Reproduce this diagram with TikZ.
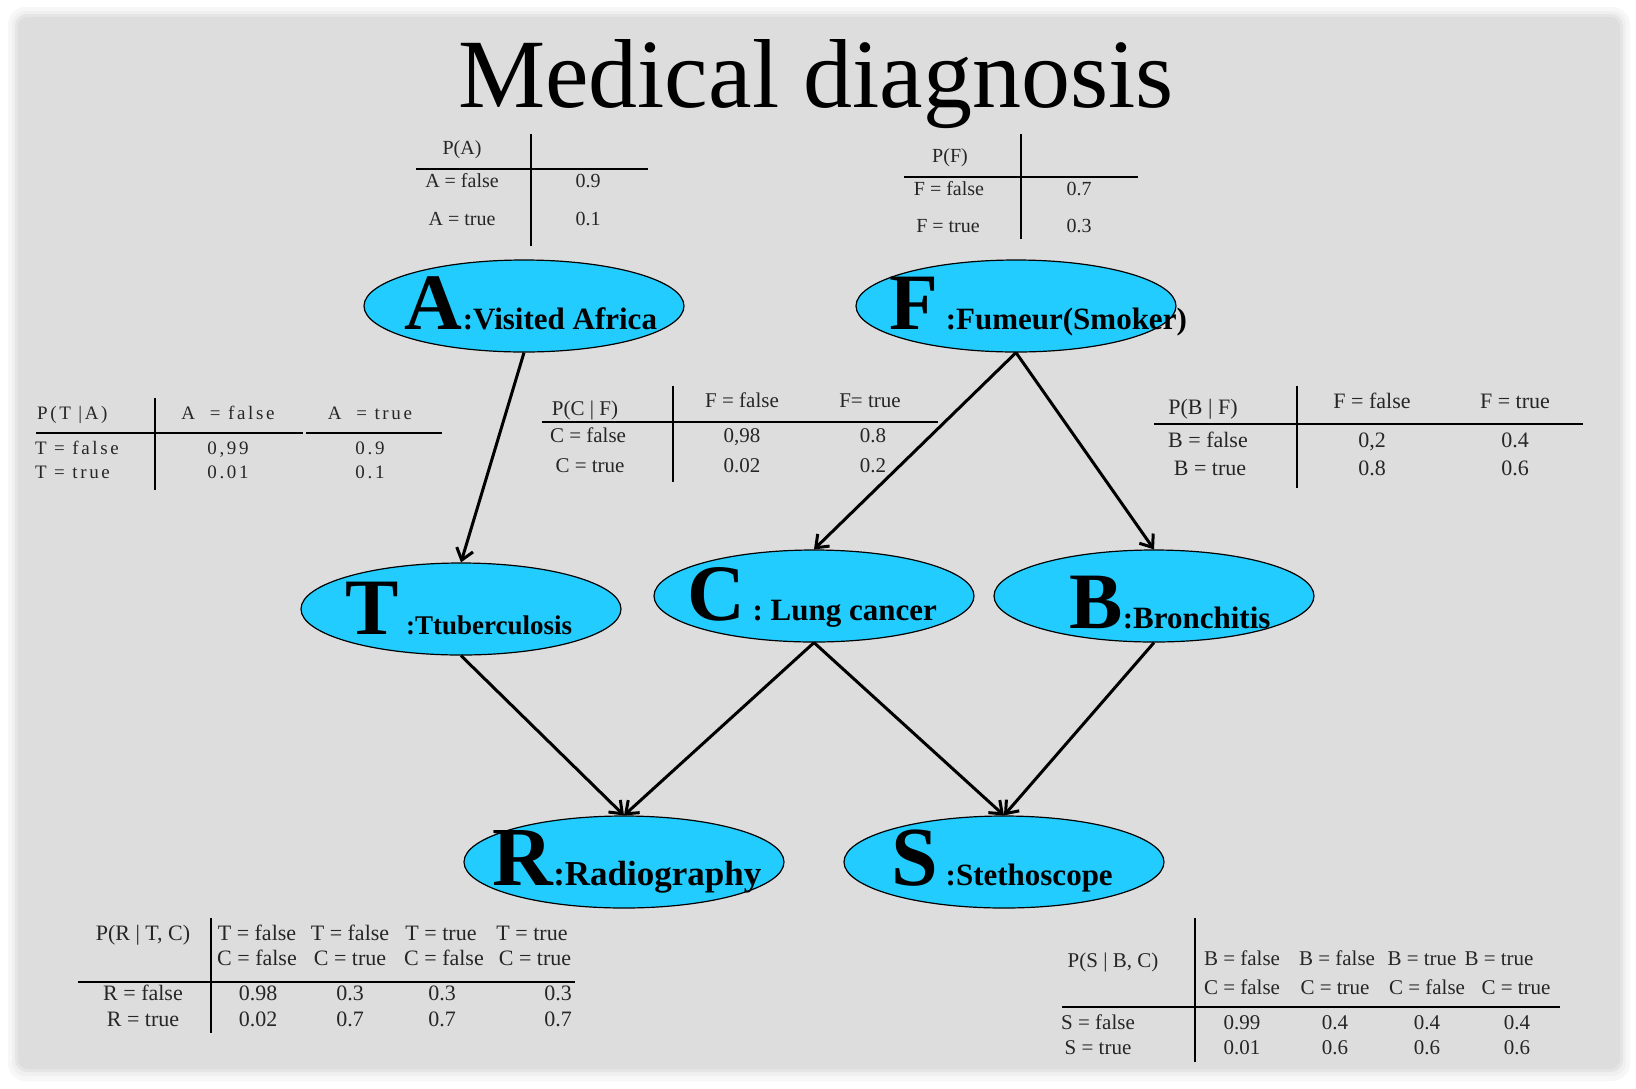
\documentclass[tikz,border=0pt]{standalone}
\usepackage{fontspec}
\setmainfont{Liberation Serif}
\newfontfamily\spaced[LetterSpace=14]{Liberation Serif}
\usetikzlibrary{shapes.geometric,arrows.meta}
\definecolor{slide}{RGB}{221,221,221}
\definecolor{nodecyan}{RGB}{34,204,255}
\tikzset{
  ell/.style={ellipse, draw=black, line width=1.2pt, fill=nodecyan, minimum width=320pt, minimum height=92pt, inner sep=0pt},
  arr/.style={line width=3pt, -{Straight Barb[length=11pt,width=17pt,line width=3pt]}},
  rule/.style={line width=2.8pt},
  cell/.style={anchor=base, inner sep=0pt, text=black!85},
  f20/.style={cell, font=\fontsize{20}{22}\selectfont},
  f21/.style={cell, font=\fontsize{21}{23}\selectfont},
  f22/.style={cell, font=\fontsize{22}{24}\selectfont},
  fsp/.style={cell, font=\spaced\fontsize{19}{21}\selectfont},
  lab/.style={anchor=base, inner sep=0pt, font=\bfseries},
}
\begin{document}
\begin{tikzpicture}[x=1pt,y=-1pt]
\useasboundingbox (0,0) rectangle (1636,1088);
\fill[white] (0,0) rectangle (1636,1088);
% slide with soft shadow
\fill[black!3, rounded corners=18] (8,7) rectangle (1630,1081);
\fill[black!6, rounded corners=14] (12,11) rectangle (1626,1076);
\fill[black!10, rounded corners=12] (15,14) rectangle (1623,1072);
\fill[slide, rounded corners=10] (18,17) rectangle (1620,1069);

% title
\node[anchor=base, inner sep=0pt, font=\fontsize{98}{100}\selectfont] (title) at (816,107) {Medical diagnosis};

% ellipses
\node[ell] (A) at (524,306) {};
\node[ell] (F) at (1016,306) {};
\node[ell] (T) at (461,609) {};
\node[ell] (C) at (814,596) {};
\node[ell] (B) at (1154,596) {};
\node[ell] (R) at (624,862) {};
\node[ell] (S) at (1004,862) {};

% labels
\node[lab] (lA) at (531,329) {\fontsize{80}{80}\selectfont A\fontsize{31}{31}\selectfont :Visited Africa};
\node[lab] (lF) at (1038,329) {\fontsize{80}{80}\selectfont F\fontsize{31}{31}\selectfont\ :Fumeur(Smoker)};
\node[lab] (lT) at (459,634) {\fontsize{80}{80}\selectfont T\fontsize{27}{27}\selectfont\ :Ttuberculosis};
\node[lab] (lC) at (812,620) {\fontsize{80}{80}\selectfont C\fontsize{31}{31}\selectfont\ : Lung cancer};
\node[lab] (lB) at (1170,628) {\fontsize{80}{80}\selectfont B\fontsize{31}{31}\selectfont :Bronchitis};
\node[lab] (lR) at (627,885) {\fontsize{84}{84}\selectfont R\fontsize{35}{35}\selectfont :Radiography};
\node[lab] (lS) at (1002,885) {\fontsize{84}{84}\selectfont S\fontsize{31}{31}\selectfont\ :Stethoscope};

% arrows
\draw[arr] (A.south) -- (T.north);
\draw[arr] (F.south) -- (C.north);
\draw[arr] (F.south) -- (B.north);
\draw[arr] (T.south) -- (R.north);
\draw[arr] (C.south) -- (R.north);
\draw[arr] (C.south) -- (S.north);
\draw[arr] (B.south) -- (S.north);

% P(A)
\node[f20] (pa0) at (462,154) {P(A)};
\node[f20] (pa1) at (462,187) {A = false};
\node[f20] (pa2) at (588,187) {0.9};
\node[f20] (pa3) at (462,225) {A = true};
\node[f20] (pa4) at (588,225) {0.1};
\draw[rule] (531,134) -- (531,246);
\draw[rule] (416,169) -- (648,169);

% P(F)
\node[f20] (pf0) at (950,162) {P(F)};
\node[f20] (pf1) at (949,195) {F = false};
\node[f20] (pf2) at (1079,195) {0.7};
\node[f20] (pf3) at (948,232) {F = true};
\node[f20] (pf4) at (1079,232) {0.3};
\draw[rule] (1021,134) -- (1021,239);
\draw[rule] (904,177) -- (1138,177);

% P(T|A)
\node[fsp, anchor=base west] (pt0) at (37,419) {P(T |A)};
\node[fsp] (pt1) at (228,419) {A \ = false};
\node[fsp] (pt2) at (370,419) {A \ = true};
\node[fsp, anchor=base west] (pt3) at (35,454) {T = false};
\node[fsp] (pt4) at (228,454) {0,99};
\node[fsp] (pt5) at (370,454) {0.9};
\node[fsp, anchor=base west] (pt6) at (35,478) {T = true};
\node[fsp] (pt7) at (228,478) {0.01};
\node[fsp] (pt8) at (370,478) {0.1};
\draw[rule] (155,398) -- (155,490);
\draw[rule] (36,433) -- (303,433);
\draw[rule] (306,433) -- (442,433);

% P(C|F)
\node[f21] (pc0) at (585,415) {P(C | F)};
\node[f21] (pc1) at (742,407) {F = false};
\node[f21] (pc2) at (870,407) {F= true};
\node[f21] (pc3) at (588,442) {C = false};
\node[f21] (pc4) at (742,442) {0,98};
\node[f21] (pc5) at (873,442) {0.8};
\node[f21] (pc6) at (590,472) {C = true};
\node[f21] (pc7) at (742,472) {0.02};
\node[f21] (pc8) at (873,472) {0.2};
\draw[rule] (673,386) -- (673,482);
\draw[rule] (542,422) -- (938,422);

% P(B|F)
\node[f22] (pb0) at (1203,414) {P(B | F)};
\node[f22] (pb1) at (1372,408) {F = false};
\node[f22] (pb2) at (1515,408) {F = true};
\node[f22] (pb3) at (1208,447) {B = false};
\node[f22] (pb4) at (1372,447) {0,2};
\node[f22] (pb5) at (1515,447) {0.4};
\node[f22] (pb6) at (1210,475) {B = true};
\node[f22] (pb7) at (1372,475) {0.8};
\node[f22] (pb8) at (1515,475) {0.6};
\draw[rule] (1297,386) -- (1297,488);
\draw[rule] (1154,424) -- (1583,424);

% P(R|T,C)
\node[f22] (pr0) at (143,940) {P(R | T, C)};
\node[f22] (pr1) at (257,940) {T = false};
\node[f22] (pr2) at (350,940) {T = false};
\node[f22] (pr3) at (441,940) {T = true};
\node[f22] (pr4) at (532,940) {T = true};
\node[f22] (pr5) at (257,965) {C = false};
\node[f22] (pr6) at (350,965) {C = true};
\node[f22] (pr7) at (444,965) {C = false};
\node[f22] (pr8) at (535,965) {C = true};
\node[f22] (pr9) at (143,1000) {R = false};
\node[f22] (pr10) at (258,1000) {0.98};
\node[f22] (pr11) at (350,1000) {0.3};
\node[f22] (pr12) at (442,1000) {0.3};
\node[f22, anchor=base east] (pr13) at (572,1000) {0.3};
\node[f22] (pr14) at (143,1026) {R = true};
\node[f22] (pr15) at (258,1026) {0.02};
\node[f22] (pr16) at (350,1026) {0.7};
\node[f22] (pr17) at (442,1026) {0.7};
\node[f22, anchor=base east] (pr18) at (572,1026) {0.7};
\draw[rule] (211,918) -- (211,1033);
\draw[rule] (78,982) -- (575,982);

% P(S|B,C)
\node[f21] (ps0) at (1113,967) {P(S | B, C)};
\node[f21] (ps1) at (1242,965) {B = false};
\node[f21] (ps2) at (1337,965) {B = false};
\node[f21] (ps3) at (1422,965) {B = true};
\node[f21] (ps4) at (1499,965) {B = true};
\node[f21] (ps5) at (1242,994) {C = false};
\node[f21] (ps6) at (1335,994) {C = true};
\node[f21] (ps7) at (1427,994) {C = false};
\node[f21] (ps8) at (1516,994) {C = true};
\node[f21] (ps9) at (1098,1029) {S = false};
\node[f21] (ps10) at (1242,1029) {0.99};
\node[f21] (ps11) at (1335,1029) {0.4};
\node[f21] (ps12) at (1427,1029) {0.4};
\node[f21] (ps13) at (1517,1029) {0.4};
\node[f21] (ps14) at (1098,1054) {S = true};
\node[f21] (ps15) at (1242,1054) {0.01};
\node[f21] (ps16) at (1335,1054) {0.6};
\node[f21] (ps17) at (1427,1054) {0.6};
\node[f21] (ps18) at (1517,1054) {0.6};
\draw[rule] (1195,918) -- (1195,1062);
\draw[rule] (1062,1007) -- (1560,1007);
\end{tikzpicture}
\end{document}
